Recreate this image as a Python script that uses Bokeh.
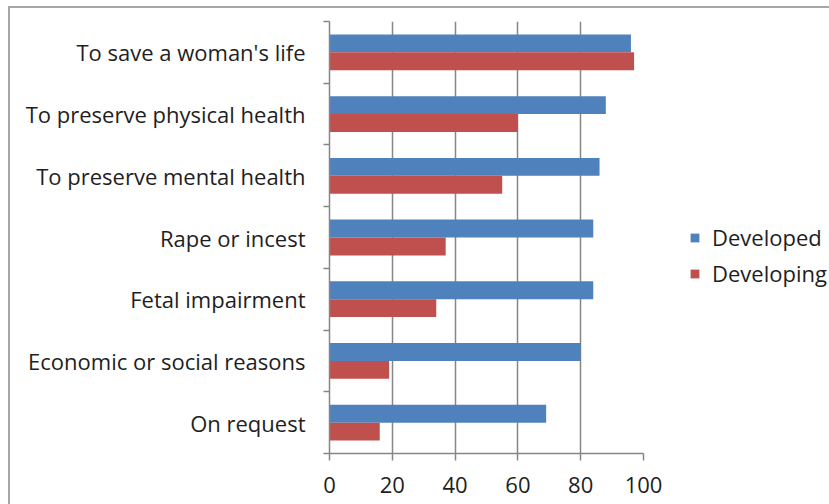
from bokeh.plotting import figure
from bokeh.models import FixedTicker, Legend, LegendItem, ColumnDataSource
from bokeh.embed import file_html
from bokeh.resources import INLINE

# Grounds on which abortion is permitted (% of countries)
categories = [
    "To save a woman's life",
    "To preserve physical health",
    "To preserve mental health",
    "Rape or incest",
    "Fetal impairment",
    "Economic or social reasons",
    "On request",
]
developed = [96, 88, 86, 84, 84, 80, 69]
developing = [97, 60, 55, 37, 34, 19, 16]
x_ticks = [0, 20, 40, 60, 80, 100]

BLUE = "#4F81BD"
RED = "#C0504D"
AXIS = "#868686"
TEXT = "#1e1e1e"
FONT = "Open Sans"
FONT_SIZE = "22px"

n = len(categories)
centers = [n - 0.5 - i for i in range(n)]
bar_h = 0.29
off = 0.145

src = ColumnDataSource(dict(
    cat=categories,
    dev=developed,
    dvg=developing,
    y_dev=[c + off for c in centers],
    y_dvg=[c - off for c in centers],
))

p = figure(
    frame_width=314, frame_height=432,
    x_range=(0, 100), y_range=(0, n),
    output_backend="svg", toolbar_location=None,
    min_border_left=319, min_border_right=0,
    min_border_top=13, min_border_bottom=51,
)
p.margin = (6, 0, 0, 8)
p.styles = {"border-top": "2px solid #a6a6a6", "border-left": "2px solid #a6a6a6"}
p.outline_line_color = None
p.background_fill_color = "white"
p.border_fill_color = "white"

r_dev = p.hbar(y="y_dev", right="dev", left=0, height=bar_h, source=src,
               fill_color=BLUE, line_color=None)
r_dvg = p.hbar(y="y_dvg", right="dvg", left=0, height=bar_h, source=src,
               fill_color=RED, line_color=None)

# x axis
p.xaxis.ticker = FixedTicker(ticks=x_ticks)
p.xaxis.axis_line_color = AXIS
p.xaxis.axis_line_width = 1.5
p.xaxis.major_tick_line_color = AXIS
p.xaxis.major_tick_line_width = 1.5
p.xaxis.major_tick_in = 0
p.xaxis.major_tick_out = 7
p.xaxis.minor_tick_line_color = None
p.xaxis.major_label_text_font = FONT
p.xaxis.major_label_text_font_size = FONT_SIZE
p.xaxis.major_label_text_color = TEXT
p.xaxis.major_label_standoff = 16

# y axis: labels at group centres, tick marks at group boundaries
p.yaxis.ticker = FixedTicker(ticks=centers, minor_ticks=list(range(n + 1)))
p.yaxis.major_label_overrides = {c: lab for c, lab in zip(centers, categories)}
p.yaxis.axis_line_color = AXIS
p.yaxis.axis_line_width = 1.5
p.yaxis.major_tick_line_color = None
p.yaxis.major_tick_in = 0
p.yaxis.major_tick_out = 0
p.yaxis.minor_tick_line_color = AXIS
p.yaxis.minor_tick_line_width = 1.5
p.yaxis.minor_tick_in = 0
p.yaxis.minor_tick_out = 6
p.yaxis.major_label_text_font = FONT
p.yaxis.major_label_text_font_size = FONT_SIZE
p.yaxis.major_label_text_color = TEXT
p.yaxis.major_label_standoff = 18

p.xgrid.ticker = FixedTicker(ticks=x_ticks)
p.xgrid.grid_line_color = AXIS
p.xgrid.grid_line_width = 1.5
p.ygrid.grid_line_color = None

# legend sits in its own panel to the right of the plotting area
legend = Legend(
    items=[LegendItem(label="Developed", renderers=[r_dev]),
           LegendItem(label="Developing", renderers=[r_dvg])],
    location=(46, 165),
    glyph_width=11, glyph_height=11,
    label_text_font=FONT, label_text_font_size=FONT_SIZE, label_text_color=TEXT,
    label_standoff=12, label_height=22, spacing=6,
    padding=0, margin=0, border_line_color=None, background_fill_alpha=0,
)
p.add_layout(legend, "right")

open("out.html", "w").write(file_html(p, INLINE))
